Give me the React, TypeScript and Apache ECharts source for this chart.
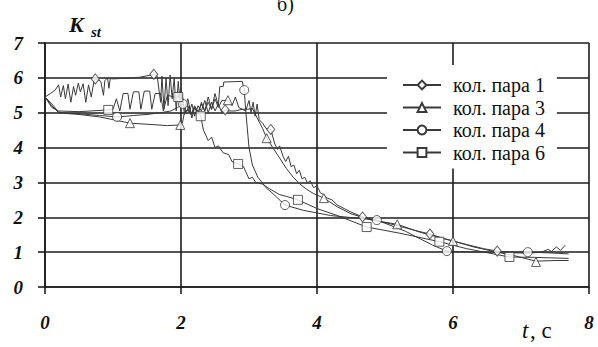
import React, { useEffect, useRef } from "react";
import * as echarts from "echarts";

const seriesNames = ["кол. пара 1", "кол. пара 3", "кол. пара 4", "кол. пара 6"];
const symbols = ["diamond", "triangle", "circle", "rect"];
const xTicks = [0, 2, 4, 6, 8];
const yTicks = [0, 1, 2, 3, 4, 5, 6, 7];

// [t, K] – кол. пара 1
const pair1Line: number[][] = [
  [0.0, 5.45], [0.08, 5.55], [0.15, 5.65], [0.2, 5.8], [0.23, 5.45], [0.27, 5.78], [0.3, 5.4],
  [0.34, 5.82], [0.38, 5.3], [0.42, 5.75], [0.45, 5.5], [0.49, 5.85], [0.52, 5.6], [0.56, 5.83],
  [0.6, 5.3], [0.64, 5.8], [0.68, 5.45], [0.72, 5.9], [0.74, 5.97], [0.78, 5.95], [0.82, 5.9],
  [0.86, 5.5], [0.88, 5.92], [0.92, 6.0], [0.94, 5.7], [0.96, 5.98], [1.0, 5.97], [1.1, 5.98],
  [1.3, 6.0], [1.4, 6.02], [1.6, 6.1], [1.65, 6.05], [1.7, 5.3], [1.72, 6.05], [1.75, 5.1],
  [1.78, 6.0], [1.81, 5.2], [1.84, 6.08], [1.87, 5.4], [1.9, 6.0], [1.93, 5.05], [1.96, 5.9],
  [1.99, 5.15], [2.02, 5.5], [2.05, 4.95], [2.08, 5.3], [2.12, 5.0], [2.16, 5.25], [2.2, 4.9],
  [2.25, 5.2], [2.3, 5.05], [2.35, 5.35], [2.4, 5.0], [2.45, 5.3], [2.5, 5.05], [2.55, 5.25],
  [2.6, 5.0], [2.65, 5.08], [2.7, 5.05], [2.8, 5.05], [2.9, 5.1], [2.95, 5.05], [3.0, 5.35],
  [3.03, 5.0], [3.06, 5.3], [3.09, 4.9], [3.12, 5.25], [3.15, 4.8], [3.2, 4.7], [3.25, 4.55],
  [3.32, 4.52], [3.38, 4.1], [3.42, 3.95], [3.45, 4.05], [3.5, 3.75], [3.54, 3.6], [3.58, 3.75],
  [3.62, 3.45], [3.66, 3.5], [3.7, 3.25], [3.74, 3.35], [3.78, 3.1], [3.82, 3.15], [3.86, 2.98],
  [3.9, 3.05], [3.95, 2.85], [4.0, 2.9], [4.05, 2.7], [4.1, 2.65], [4.15, 2.55], [4.22, 2.5],
  [4.3, 2.35], [4.4, 2.25], [4.5, 2.15], [4.67, 2.01], [4.9, 1.9], [5.2, 1.75], [5.45, 1.62],
  [5.66, 1.52], [5.85, 1.4], [6.0, 1.32], [6.2, 1.22], [6.45, 1.1], [6.65, 1.03], [6.9, 0.98],
  [7.1, 0.97], [7.3, 1.0], [7.4, 1.08], [7.45, 1.02], [7.52, 1.15], [7.58, 1.05], [7.65, 1.2],
];
const pair1Markers: number[][] = [
  [0.74, 5.97], [1.6, 6.1], [2.65, 5.08], [3.32, 4.52], [4.67, 2.01], [5.66, 1.52], [6.65, 1.03],
];

// кол. пара 3
const pair3Line: number[][] = [
  [0.0, 5.45], [0.1, 5.25], [0.2, 5.02], [0.3, 4.98], [0.5, 4.95], [0.8, 4.88], [1.0, 4.8],
  [1.25, 4.7], [1.5, 4.67], [1.8, 4.63], [1.99, 4.65], [2.02, 4.7], [2.05, 5.0], [2.1, 5.1],
  [2.15, 4.95], [2.2, 5.15], [2.25, 5.0], [2.3, 5.25], [2.35, 5.05], [2.4, 5.3], [2.45, 5.1],
  [2.5, 5.4], [2.55, 5.15], [2.6, 5.35], [2.69, 5.36], [2.75, 5.2], [2.8, 5.45], [2.85, 5.15],
  [2.9, 5.1], [2.98, 5.1], [3.05, 5.12], [3.12, 4.85], [3.2, 4.55], [3.26, 4.27], [3.35, 4.0],
  [3.45, 3.7], [3.55, 3.4], [3.65, 3.15], [3.75, 2.95], [3.85, 2.8], [3.95, 2.68], [4.1, 2.55],
  [4.3, 2.3], [4.5, 2.1], [4.8, 1.92], [5.18, 1.8], [5.5, 1.58], [5.8, 1.42], [6.0, 1.32],
  [6.3, 1.15], [6.6, 1.02], [6.9, 0.9], [7.22, 0.74], [7.5, 0.76], [7.7, 0.76],
];
const pair3Markers: number[][] = [
  [1.25, 4.7], [1.99, 4.65], [2.69, 5.36], [3.26, 4.27], [4.1, 2.55], [5.18, 1.8], [6.0, 1.32], [7.22, 0.72],
];

// кол. пара 4
const pair4Line: number[][] = [
  [0.0, 5.45], [0.1, 5.2], [0.2, 5.0], [0.5, 4.97], [0.8, 4.92], [1.06, 4.88], [1.2, 4.9],
  [1.3, 4.92], [1.5, 4.95], [1.7, 5.0], [1.85, 5.05], [1.95, 5.15], [2.03, 5.25], [2.08, 5.0],
  [2.12, 5.2], [2.16, 4.85], [2.2, 5.15], [2.25, 4.95], [2.3, 5.3], [2.35, 5.05], [2.4, 5.45],
  [2.45, 5.1], [2.5, 5.55], [2.55, 5.2], [2.57, 5.75], [2.62, 5.75], [2.63, 5.88], [2.9, 5.9],
  [2.93, 5.65], [2.95, 5.1], [3.0, 4.0], [3.05, 3.5], [3.13, 3.15], [3.25, 2.85], [3.34, 2.7],
  [3.53, 2.35], [3.8, 2.2], [4.2, 2.05], [4.88, 1.92], [5.3, 1.6], [5.7, 1.2], [5.91, 1.03],
  [6.3, 1.0], [6.7, 1.0], [7.1, 1.0], [7.4, 0.98], [7.7, 0.95],
];
const pair4Markers: number[][] = [
  [1.06, 4.88], [2.03, 5.25], [2.93, 5.65], [3.53, 2.35], [4.88, 1.92], [5.91, 1.03], [7.1, 1.0],
];

// кол. пара 6
const pair6Line: number[][] = [
  [0.0, 5.45], [0.1, 5.15], [0.2, 5.05], [0.5, 5.03], [0.93, 5.08], [1.0, 5.1], [1.05, 5.4],
  [1.1, 5.05], [1.15, 5.55], [1.22, 5.55], [1.25, 5.1], [1.3, 5.6], [1.38, 5.6], [1.41, 5.1],
  [1.46, 5.62], [1.54, 5.62], [1.57, 5.1], [1.62, 5.55], [1.7, 5.55], [1.74, 5.05], [1.8, 5.5],
  [1.9, 5.45], [1.96, 5.45], [2.0, 5.7], [2.05, 5.1], [2.1, 5.4], [2.15, 4.95], [2.2, 5.2],
  [2.29, 4.9], [2.33, 4.5], [2.4, 4.2], [2.45, 4.3], [2.5, 4.0], [2.55, 4.05], [2.62, 3.85],
  [2.7, 3.8], [2.75, 3.6], [2.84, 3.53], [2.92, 3.45], [3.0, 3.1], [3.05, 3.15], [3.1, 3.0],
  [3.2, 2.95], [3.3, 2.82], [3.45, 2.65], [3.55, 2.6], [3.72, 2.5], [4.0, 2.25], [4.3, 2.05],
  [4.73, 1.72], [5.2, 1.55], [5.8, 1.3], [6.2, 1.1], [6.83, 0.86], [7.2, 0.85], [7.7, 0.82],
];
const pair6Markers: number[][] = [
  [0.93, 5.08], [1.96, 5.45], [2.29, 4.9], [2.84, 3.53], [3.72, 2.5], [4.73, 1.72], [5.8, 1.3], [6.83, 0.86],
];

const lines = [pair1Line, pair3Line, pair4Line, pair6Line];
const markers = [pair1Markers, pair3Markers, pair4Markers, pair6Markers];

const INK = "#1c1c1c";
const CURVE = "#3a3a3a";
const SERIF = "Liberation Serif";

export default function App() {
  const ref = useRef<HTMLDivElement>(null);
  useEffect(() => {
    if (!ref.current) return;
    const chart = echarts.init(ref.current, undefined, { renderer: "svg" });
    const axisLineStyle = { color: INK, width: 1.6 };
    const labelStyle = {
      fontFamily: SERIF,
      fontStyle: "italic" as const,
      fontWeight: "bold" as const,
      fontSize: 19,
      color: "#111",
    };
    const series: any[] = [];
    seriesNames.forEach((name, i) => {
      series.push({
        name,
        type: "line",
        data: lines[i],
        symbol: symbols[i],
        symbolSize: 9,
        showSymbol: false,
        lineStyle: { color: CURVE, width: 1 },
        itemStyle: { color: "#fff", borderColor: CURVE, borderWidth: 1 },
        z: 3,
        silent: true,
      });
      series.push({
        name: name + " ",
        type: "scatter",
        data: markers[i],
        symbol: symbols[i],
        symbolSize: symbols[i] === "diamond" ? [8, 10] : 9,
        itemStyle: { color: "#fff", borderColor: CURVE, borderWidth: 1 },
        z: 4,
        silent: true,
      });
    });
    chart.setOption({
      animation: false,
      backgroundColor: "#fff",
      grid: { left: 45, right: 9, top: 43, bottom: 60, containLabel: false },
      xAxis: {
        type: "value",
        min: xTicks[0],
        max: xTicks[xTicks.length - 1],
        interval: 2,
        axisLine: { show: true, lineStyle: axisLineStyle },
        axisTick: { show: true, length: 7, lineStyle: axisLineStyle },
        splitLine: { show: true, lineStyle: axisLineStyle },
        axisLabel: { ...labelStyle, margin: 26 },
      },
      yAxis: {
        type: "value",
        min: yTicks[0],
        max: yTicks[yTicks.length - 1],
        interval: 1,
        axisLine: { show: true, lineStyle: axisLineStyle },
        axisTick: { show: true, length: 7, lineStyle: axisLineStyle },
        splitLine: { show: true, lineStyle: axisLineStyle },
        axisLabel: { ...labelStyle, margin: 22 },
      },
      legend: {
        data: seriesNames,
        orient: "vertical",
        left: 387,
        top: 65,
        padding: [10, 12, 6, 15],
        itemGap: 2.5,
        itemWidth: 38,
        itemHeight: 11,
        backgroundColor: "#fff",
        textStyle: { fontFamily: SERIF, fontSize: 20, color: "#111", lineHeight: 20, padding: [0, 0, 0, 7] },
      },
      graphic: [
        { type: "text", x: 69, y: 13, style: { text: "K", fontFamily: SERIF, fontStyle: "italic", fontWeight: "bold", fontSize: 22, fill: "#111" } },
        { type: "text", x: 91, y: 24, style: { text: "st", fontFamily: SERIF, fontStyle: "italic", fontWeight: "bold", fontSize: 15, fill: "#111" } },
        { type: "text", x: 277, y: -6, style: { text: "б)", fontFamily: SERIF, fontSize: 20, fill: "#111" } },
        { type: "text", x: 522, y: 319, style: { text: "t", fontFamily: SERIF, fontStyle: "italic", fontSize: 23, fill: "#111" } },
        { type: "text", x: 530, y: 319, style: { text: ", с", fontFamily: SERIF, fontSize: 23, fill: "#111" } },
      ],
      series,
    });
    return () => chart.dispose();
  }, []);
  return (
    <div
      ref={ref}
      style={{ position: "fixed", left: 0, top: 0, width: 598, height: 347, background: "#fff" }}
    />
  );
}
